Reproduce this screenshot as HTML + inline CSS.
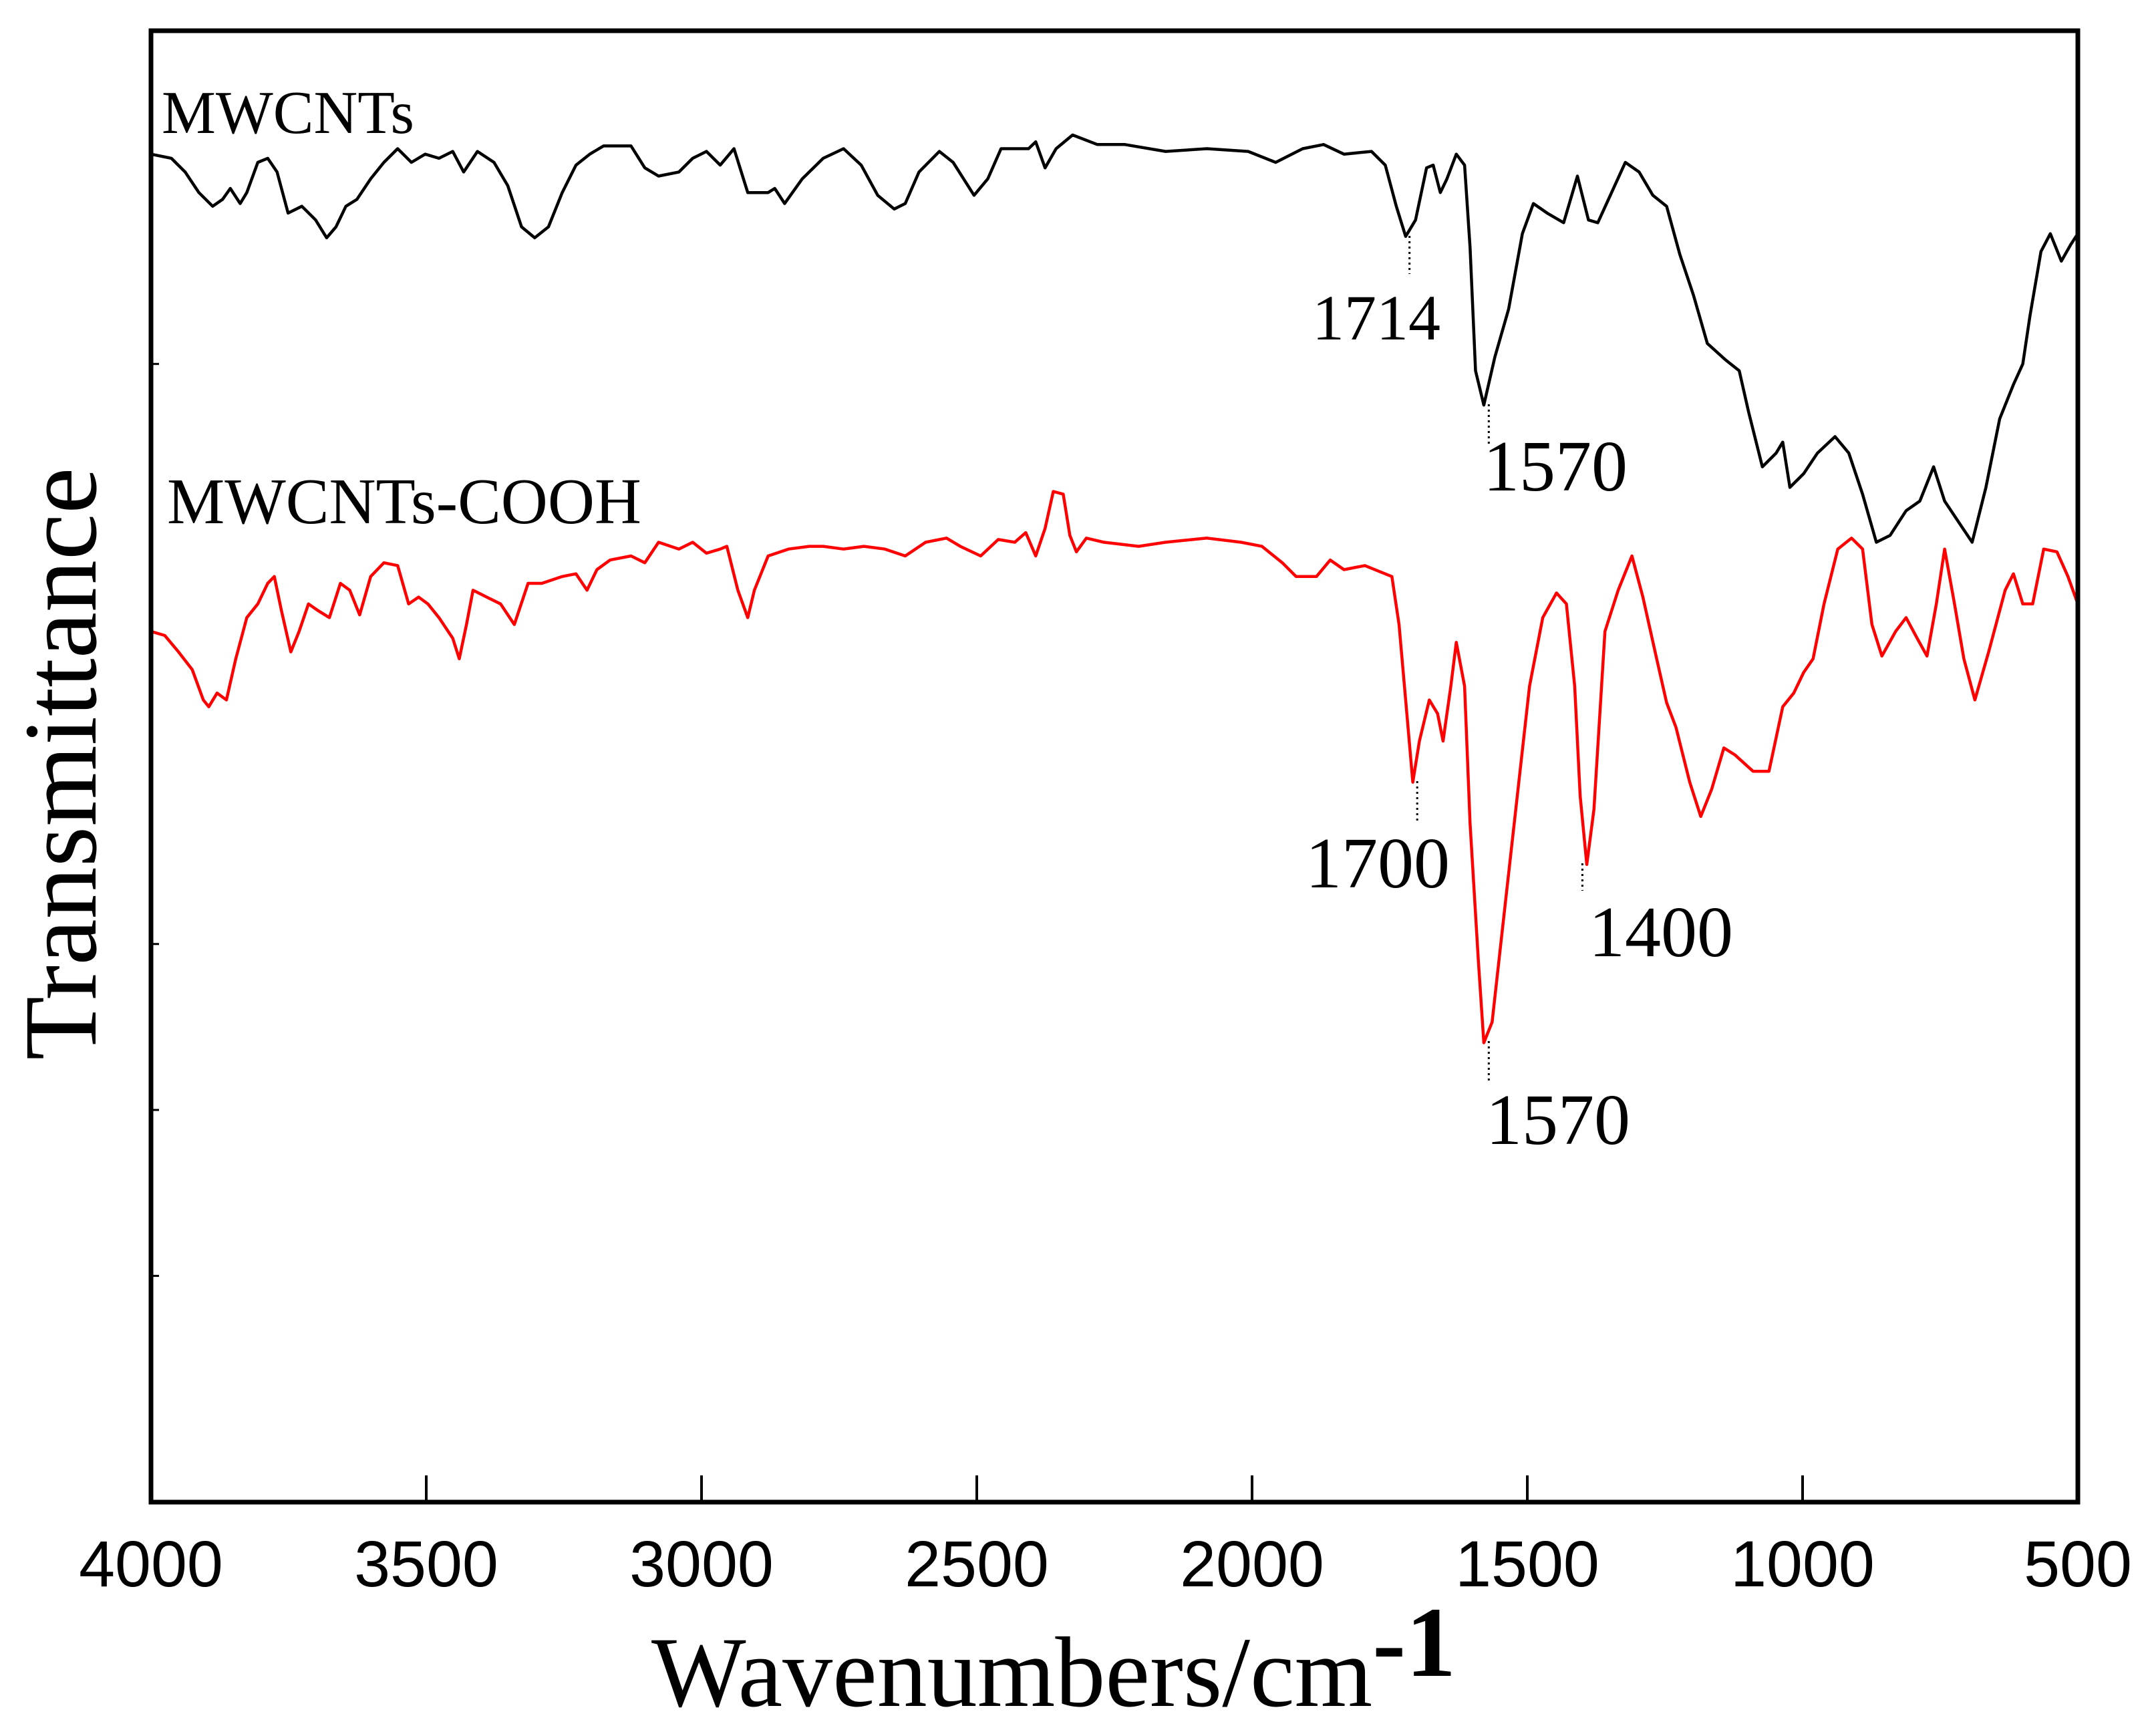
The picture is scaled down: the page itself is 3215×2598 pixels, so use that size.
<!DOCTYPE html>
<html><head><meta charset="utf-8"><style>
html,body{margin:0;padding:0;background:#fff;}
svg{display:block;}
</style></head><body>
<svg id="chart" width="3215" height="2598" viewBox="0 0 3215 2598" xmlns="http://www.w3.org/2000/svg">
<rect x="0" y="0" width="3215" height="2598" fill="#fff"/>
<g id="plot"></g>
</svg>
<script>
const xTicks = [4000, 3500, 3000, 2500, 2000, 1500, 1000, 500];
const yTickVals = [830, 407, 286, 165];
const blackW = [4000,3963,3938,3913,3888,3870,3856,3838,3826,3806,3788,3771,3751,3726,3701,3681,3664,3646,3626,3601,3577,3552,3527,3502,3477,3452,3432,3407,3377,3352,3327,3303,3278,3253,3228,3203,3178,3128,3103,3078,3041,3016,2991,2966,2941,2916,2879,2867,2849,2817,2779,2742,2710,2680,2650,2630,2605,2568,2543,2505,2480,2456,2406,2393,2376,2356,2326,2281,2231,2157,2082,2007,1957,1908,1870,1833,1783,1758,1738,1721,1703,1683,1671,1658,1646,1629,1614,1604,1594,1579,1559,1534,1509,1489,1464,1434,1409,1389,1372,1347,1322,1297,1272,1247,1223,1198,1173,1140,1115,1098,1073,1048,1036,1023,998,973,941,916,891,866,841,812,787,762,742,717,692,667,642,617,600,587,567,550,530,513,500];
const blackT = [983,980,970,955,945,950,958,947,955,977,980,970,940,945,935,922,930,945,950,965,977,987,977,983,980,985,970,985,977,960,930,922,930,955,975,983,989,989,973,967,970,980,985,975,987,955,955,958,947,965,980,987,975,953,943,947,970,985,977,953,965,987,987,992,973,987,997,990,990,985,987,985,977,987,990,983,985,975,945,923,935,973,975,955,965,983,975,915,825,800,835,870,925,947,940,933,967,935,933,955,977,970,953,945,910,880,845,833,825,795,755,765,773,740,750,765,777,765,735,700,705,723,730,755,730,715,700,740,790,815,830,865,912,925,905,917,925];
const redW = [4000,3975,3950,3925,3905,3895,3880,3863,3846,3826,3806,3788,3776,3763,3746,3731,3714,3696,3676,3656,3639,3621,3601,3577,3552,3532,3514,3497,3477,3452,3440,3427,3415,3390,3365,3340,3315,3290,3253,3228,3208,3190,3166,3128,3103,3078,3041,3016,2991,2966,2954,2934,2916,2904,2879,2842,2804,2779,2742,2705,2667,2630,2593,2555,2530,2493,2461,2431,2411,2393,2376,2361,2343,2331,2319,2301,2269,2206,2157,2082,2020,1982,1945,1920,1883,1858,1833,1795,1746,1733,1721,1708,1696,1678,1663,1653,1639,1629,1614,1604,1589,1579,1564,1546,1521,1496,1472,1447,1429,1414,1404,1392,1379,1359,1335,1310,1290,1265,1247,1230,1205,1185,1165,1143,1123,1090,1061,1036,1016,998,981,961,936,911,891,874,856,831,812,792,774,757,742,724,707,687,662,632,617,600,582,562,538,518,500];
const redT = [635,632,620,607,585,580,590,585,615,645,655,670,675,650,620,635,655,650,645,670,665,647,675,685,683,655,660,655,645,630,615,640,665,660,655,640,670,670,675,677,665,680,687,690,685,700,695,700,692,695,697,665,645,665,690,695,697,697,695,697,695,690,700,703,697,690,702,700,707,690,710,737,735,705,693,703,700,697,700,703,700,697,685,675,675,687,680,683,675,640,585,525,555,585,575,555,595,627,595,495,395,335,350,415,505,595,645,663,655,595,515,465,505,635,665,690,660,615,583,565,525,500,520,550,545,533,533,580,590,605,615,655,695,703,695,640,617,635,645,630,617,655,695,655,615,585,620,665,677,655,655,695,693,675,655];
const peakLabels = ["1714", "1570", "1700", "1400", "1570"];
const peakW = [1714, 1570, 1700, 1400, 1570];

const L = 226, R = 3110, T = 46, B = 2248;
const xs = w => L + (4000 - w) / 3500 * (R - L);
const ys = v => B - v / 1073 * (B - T);
const NS = "http://www.w3.org/2000/svg";
const plot = document.getElementById('plot');
function mk(tag, attrs, parent) {
  const e = document.createElementNS(NS, tag);
  for (const k in attrs) e.setAttribute(k, attrs[k]);
  (parent || plot).appendChild(e);
  return e;
}

function series(W, V, color, name) {
  const n = Math.min(W.length, V.length);
  let d = "";
  for (let i = 0; i < n; i++) d += (i ? "L" : "M") + xs(W[i]).toFixed(1) + " " + ys(V[i]).toFixed(1);
  const p = mk('path', {d: d, fill: "none", stroke: color, "stroke-width": 4.5, "stroke-linejoin": "round"});
  
  
}
series(blackW, blackT, "#000", "mwcnts-line");
series(redW, redT, "#ff0000", "mwcnts-cooh-line");

const fr = mk('rect', {x: L, y: T, width: R - L, height: B - T, fill: "none", stroke: "#000", "stroke-width": 7});



xTicks.forEach(t => {
  const x = xs(t);
  if (t !== 4000 && t !== 500) {
    const tk = mk('line', {x1: x, x2: x, y1: B, y2: B - 40, stroke: "#000", "stroke-width": 4});
    
    
  }
  const lb = mk('text', {x: x, y: 2374, "text-anchor": "middle", "font-family": "Liberation Sans, sans-serif", "font-size": 97});
  lb.textContent = t;
  
  
});
yTickVals.forEach(v => {
  const tk = mk('line', {x1: L, x2: L + 12, y1: ys(v), y2: ys(v), stroke: "#000", "stroke-width": 3});
  
  
});

const lblPos = [[1964, 508, 96, 353, 410], [2220, 734, 108, 605, 666], [1954, 1328, 108, 1169, 1230], [2378, 1431, 108, 1292, 1333], [2224, 1712, 108, 1558, 1620]];
peakLabels.forEach((s, i) => {
  const p = lblPos[i];
  const x = xs(peakW[i]);
  const dl = mk('line', {x1: x, x2: x, y1: p[3], y2: p[4], stroke: "#000", "stroke-width": 3, "stroke-dasharray": "3 5"});
  
  
  const t = mk('text', {x: p[0], y: p[1], "font-family": "Liberation Serif, serif", "font-size": p[2]});
  t.textContent = s;
  
  
});
</script>
<svg style="position:absolute;left:0;top:0" width="3215" height="2598">
<text x="242" y="199" font-family="Liberation Serif, serif" font-size="91">MWCNTs</text>
<text x="250" y="783" font-family="Liberation Serif, serif" font-size="97">MWCNTs-COOH</text>
<text x="975" y="2553" font-family="Liberation Serif, serif" font-size="150">Wavenumbers/cm<tspan font-size="150" font-weight="bold" dy="-45">-1</tspan></text>
<text transform="translate(143,1143) rotate(-90)" text-anchor="middle" font-family="Liberation Serif, serif" font-size="156">Transmittance</text>
</svg>
</body></html>
